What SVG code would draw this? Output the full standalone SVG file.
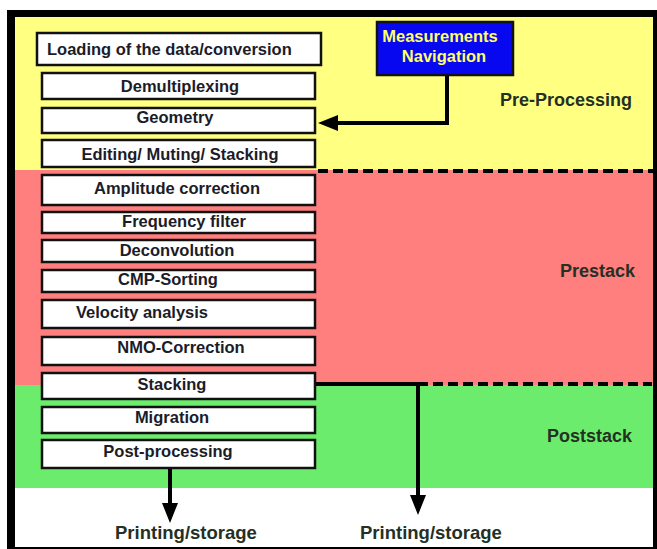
<svg xmlns="http://www.w3.org/2000/svg" width="657" height="549" viewBox="0 0 657 549">
<defs>
<style>
.box{fill:#fff;stroke:#111;stroke-width:2.5}
.t{font-family:"Liberation Sans",Arial,sans-serif;font-weight:bold;font-size:16.5px;fill:#1c1c28;text-anchor:middle}
.lbl{font-family:"Liberation Sans",Arial,sans-serif;font-weight:bold;font-size:18px;fill:#243024}
.ln{fill:none;stroke:#000;stroke-width:4}
.dash{fill:none;stroke:#000;stroke-width:4;stroke-dasharray:10 5}
</style>
<marker id="ah" viewBox="0 0 10 8" refX="5" refY="4" markerWidth="5" markerHeight="4" markerUnits="strokeWidth" orient="auto">
<path d="M0,0 L10,4 L0,8 z" fill="#000"/>
</marker>
</defs>
<g id="background">
<rect x="7" y="10" width="650" height="539" fill="#000"/>
<rect x="15" y="17" width="638" height="530" fill="#fff"/>
<rect x="15" y="17" width="638" height="153" fill="#FFFF82"/>
<rect x="15" y="170" width="638" height="215" fill="#FF7E7E"/>
<rect x="15" y="385" width="638" height="103" fill="#6CEC6C"/>
</g>
<g id="connectors">
<line class="dash" x1="318" y1="171" x2="653" y2="171"/>
<line class="dash" x1="418" y1="384" x2="652" y2="384"/>
<polyline class="ln" points="447,75 447,123 328,123" marker-end="url(#ah)"/>
<polyline class="ln" points="315,384 418,384 418,505" marker-end="url(#ah)"/>
<line class="ln" x1="170" y1="468" x2="170" y2="513" marker-end="url(#ah)"/>
</g>
<g id="n-loading"><rect class="box" x="37" y="33" width="284" height="32" stroke-width="3"/><text class="t" x="47" y="55" style="text-anchor:start">Loading of the data/conversion</text></g>
<g id="n-demux"><rect class="box" x="42" y="73" width="273" height="26"/><text class="t" x="180" y="92">Demultiplexing</text></g>
<g id="n-geometry"><rect class="box" x="42" y="108" width="273" height="25"/><text class="t" x="175" y="123">Geometry</text></g>
<g id="n-editing"><rect class="box" x="42" y="140" width="273" height="27"/><text class="t" x="180" y="160">Editing/ Muting/ Stacking</text></g>
<g id="n-amplitude"><rect class="box" x="42" y="175" width="273" height="30"/><text class="t" x="177" y="194">Amplitude correction</text></g>
<g id="n-frequency"><rect class="box" x="42" y="212" width="273" height="21"/><text class="t" x="184" y="227">Frequency filter</text></g>
<g id="n-decon"><rect class="box" x="42" y="240" width="273" height="22"/><text class="t" x="177" y="256">Deconvolution</text></g>
<g id="n-cmp"><rect class="box" x="42" y="270" width="273" height="22"/><text class="t" x="168" y="285">CMP-Sorting</text></g>
<g id="n-velocity"><rect class="box" x="42" y="300" width="273" height="28"/><text class="t" x="142" y="318">Velocity analysis</text></g>
<g id="n-nmo"><rect class="box" x="42" y="337" width="273" height="28"/><text class="t" x="181" y="353">NMO-Correction</text></g>
<g id="n-stacking"><rect class="box" x="42" y="373" width="273" height="26"/><text class="t" x="172" y="390">Stacking</text></g>
<g id="n-migration"><rect class="box" x="42" y="407" width="273" height="26"/><text class="t" x="172" y="423">Migration</text></g>
<g id="n-post"><rect class="box" x="42" y="440" width="273" height="28"/><text class="t" x="168" y="457">Post-processing</text></g>
<g id="n-measure"><rect x="377" y="22" width="136" height="53" fill="#0808F0" stroke="#111" stroke-width="2.5"/><text class="t" x="440" y="42" style="fill:#FFFF66">Measurements</text><text class="t" x="444" y="62" style="fill:#FFFF66">Navigation</text></g>
<g id="labels">
<text class="lbl" x="500" y="106">Pre-Processing</text>
<text class="lbl" x="560" y="277">Prestack</text>
<text class="lbl" x="547" y="442">Poststack</text>
<text class="lbl" x="115" y="539" style="font-size:18.5px">Printing/storage</text>
<text class="lbl" x="360" y="539" style="font-size:18.5px">Printing/storage</text>
</g>
</svg>
